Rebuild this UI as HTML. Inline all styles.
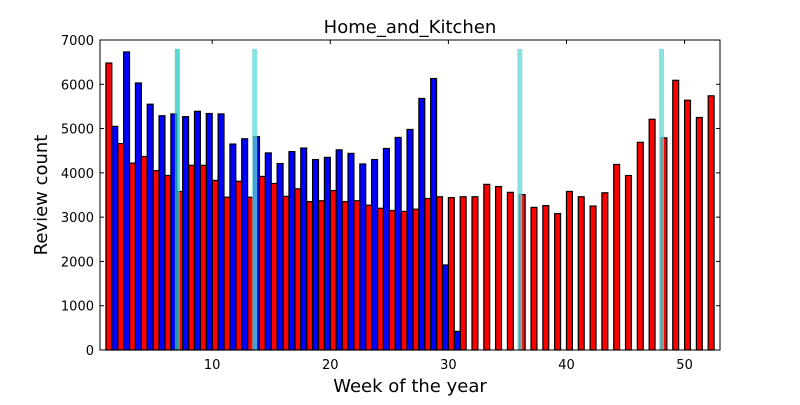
<!DOCTYPE html>
<html><head><meta charset="utf-8"><style>
body{margin:0;background:#fff}
svg text{font-family:"DejaVu Sans","Liberation Sans",sans-serif;fill:#000}
</style></head><body>
<svg id="chart" width="800" height="400" xmlns="http://www.w3.org/2000/svg">
<rect width="800" height="400" fill="#fff"/>
<g id="bars"></g>
<g id="vlines"></g>
<rect x="100" y="40" width="620" height="310" fill="none" stroke="#000" stroke-width="1"/>
<g id="ticks"></g>
<text x="410" y="33" font-size="18" text-anchor="middle">Home_and_Kitchen</text>
<text x="410" y="392" font-size="18" text-anchor="middle">Week of the year</text>
<text x="47" y="195" font-size="18" text-anchor="middle" transform="rotate(-90 47 195)">Review count</text>
</svg>
<script>
const redValues=[6480,4660,4220,4370,4050,3940,3580,4170,4170,3830,3450,3810,3450,3920,3760,3470,3640,3350,3370,3600,3350,3370,3270,3200,3150,3130,3180,3420,3460,3440,3460,3460,3740,3690,3560,3510,3220,3260,3080,3580,3460,3250,3550,4190,3940,4690,5210,4790,6090,5640,5250,5740];
const blueValues=[5050,6730,6030,5550,5290,5330,5270,5390,5340,5330,4650,4770,4820,4450,4210,4480,4560,4300,4350,4520,4440,4200,4300,4550,4800,4980,5680,6130,1920,420];
const vlineWeeks=[7.05,13.6,36.05,48.05];
const vlineTop=6800;
const vlineColors=["#20c8c8","#60d8d8","#60d8d8","#60d8d8"];
const xTicks=[10,20,30,40,50];
const yTicks=[0,1000,2000,3000,4000,5000,6000,7000];
const NS="http://www.w3.org/2000/svg";
const X0=100,X1=720,Y0=350,Y1=40,XMIN=0.5,XMAX=53,YMAX=7000;
const xs=v=>X0+(v-XMIN)/(XMAX-XMIN)*(X1-X0);
const ys=v=>Y0-v/YMAX*(Y0-Y1);
function mk(tag,attrs,parent){const e=document.createElementNS(NS,tag);for(const k in attrs)e.setAttribute(k,attrs[k]);parent.appendChild(e);return e;}
const bars=document.getElementById('bars');
redValues.forEach((v,i)=>{const w=i+1;const r=mk('rect',{x:xs(w),y:ys(v),width:xs(w+0.5)-xs(w),height:Y0-ys(v),fill:'#ff0000',stroke:'#000','stroke-width':1.2},bars);

});
blueValues.forEach((v,i)=>{const w=i+1;const r=mk('rect',{x:xs(w+0.5),y:ys(v),width:xs(w+1)-xs(w+0.5),height:Y0-ys(v),fill:'#0000ff',stroke:'#000','stroke-width':1.2},bars);

});
const vl=document.getElementById('vlines');
vlineWeeks.forEach((w,i)=>{const l=mk('rect',{x:xs(w)-2.5,y:ys(vlineTop),width:5,height:Y0-ys(vlineTop),fill:vlineColors[i],opacity:0.75},vl);

});
const tk=document.getElementById('ticks');
xTicks.forEach(t=>{const x=xs(t);mk('line',{x1:x,x2:x,y1:Y0,y2:Y0-4,stroke:'#000'},tk);mk('line',{x1:x,x2:x,y1:Y1,y2:Y1+4,stroke:'#000'},tk);
const tx=mk('text',{x:x,y:Y0+19,'font-size':13,'text-anchor':'middle'},tk);tx.textContent=t;

});
yTicks.forEach(t=>{const y=ys(t);mk('line',{x1:X0,x2:X0+4,y1:y,y2:y,stroke:'#000'},tk);mk('line',{x1:X1,x2:X1-4,y1:y,y2:y,stroke:'#000'},tk);
const tx=mk('text',{x:X0-6,y:y+5,'font-size':13,'text-anchor':'end'},tk);tx.textContent=t;

});
</script>
</body></html>
